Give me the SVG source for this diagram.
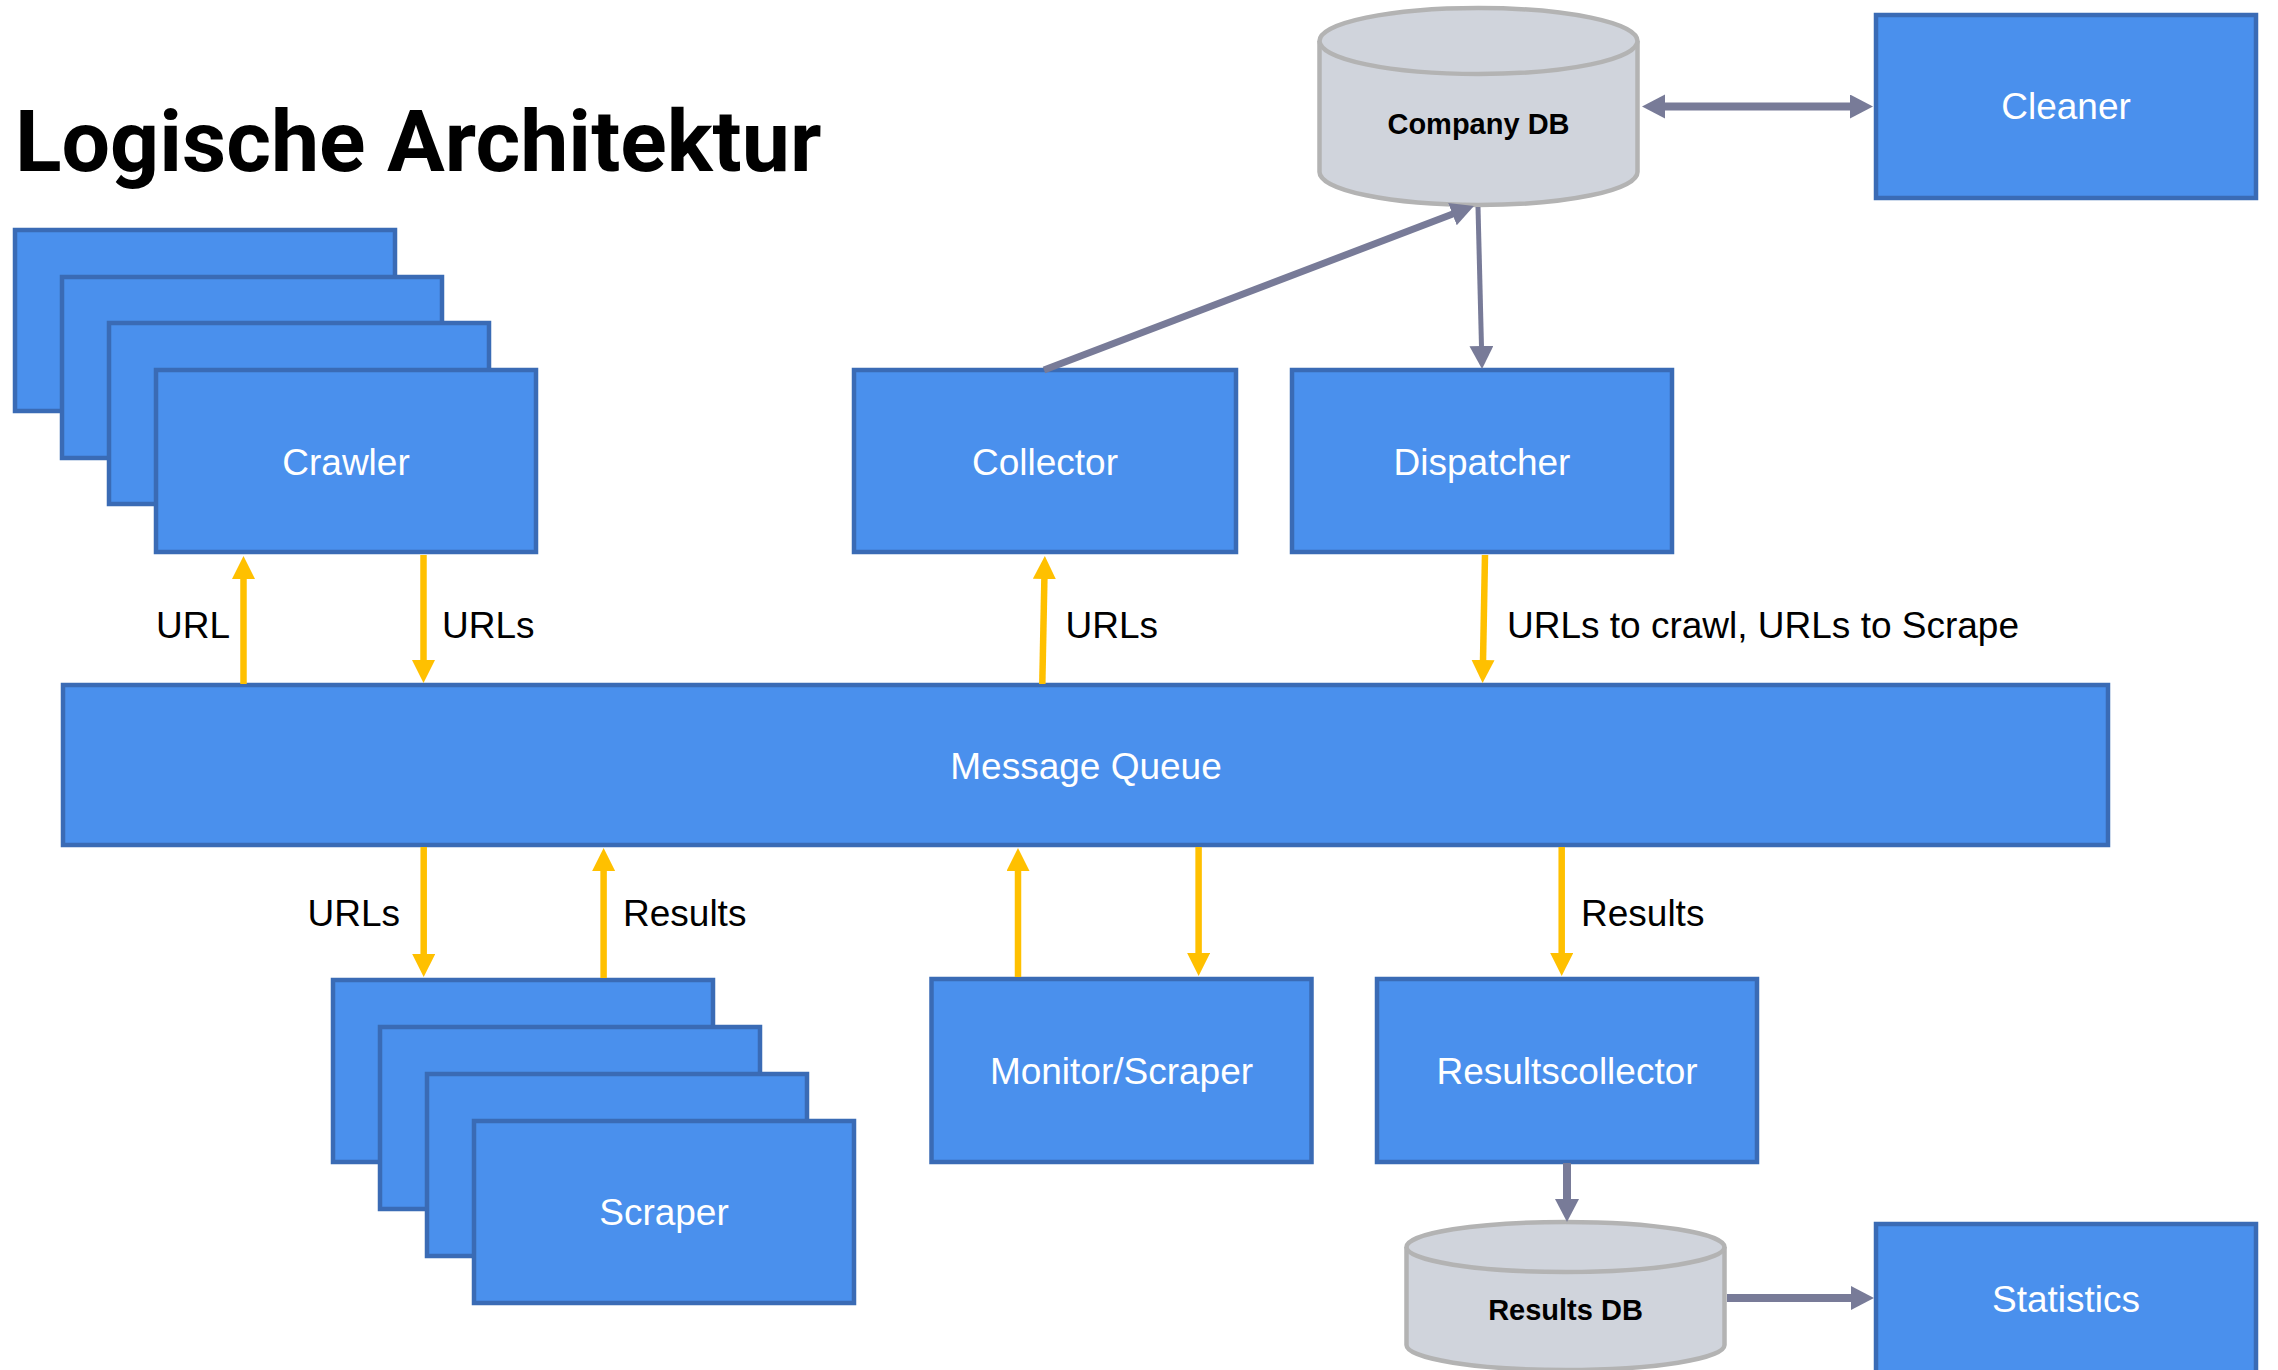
<svg xmlns="http://www.w3.org/2000/svg" width="2278" height="1370" viewBox="0 0 2278 1370">
  <style>
    .box { fill: #4a90ed; stroke: #3a6bb5; stroke-width: 4.5; }
    .db { fill: #d0d4dc; stroke: #b3b3b3; stroke-width: 4.5; }
    .lbl { font-family: "Liberation Sans", Arial, sans-serif; font-size: 37px; fill: #ffffff; text-anchor: middle; }
    .dblbl { font-family: "Liberation Sans", Arial, sans-serif; font-size: 29px; font-weight: bold; fill: #000000; text-anchor: middle; }
    .elbl { font-family: "Liberation Sans", Arial, sans-serif; font-size: 37px; fill: #000000; }
    .title { font-family: Roboto, "Liberation Sans", sans-serif; font-size: 86px; font-weight: bold; fill: #000000; }
    .flow { stroke: #ffc000; stroke-width: 6.5; fill: none; marker-end: url(#headY); }
    .link { stroke: #787b98; fill: none; marker-end: url(#headG); }
  </style>
  <defs>
    <marker id="headY" markerUnits="userSpaceOnUse" markerWidth="24" markerHeight="24" refX="1" refY="11.5" orient="auto">
      <path d="M0,0 L23,11.5 L0,23 Z" fill="#ffc000"/>
    </marker>
    <marker id="headG" markerUnits="userSpaceOnUse" markerWidth="24" markerHeight="25" refX="1" refY="12" orient="auto-start-reverse">
      <path d="M0,0 L23,12 L0,24 Z" fill="#787b98"/>
    </marker>
  </defs>

  <rect width="2278" height="1370" fill="#ffffff"/>

  <text class="title" x="15" y="171">Logische Architektur</text>

  <!-- Crawler instances, stacked -->
  <g id="crawler">
    <rect class="box" x="15" y="230" width="380" height="181"/>
    <rect class="box" x="62" y="277" width="380" height="181"/>
    <rect class="box" x="109" y="323" width="380" height="181"/>
    <rect class="box" x="156" y="370" width="380" height="182"/>
    <text class="lbl" x="346" y="475">Crawler</text>
  </g>

  <g id="collector">
    <rect class="box" x="854" y="370" width="382" height="182"/>
    <text class="lbl" x="1045" y="475">Collector</text>
  </g>

  <g id="dispatcher">
    <rect class="box" x="1292" y="370" width="380" height="182"/>
    <text class="lbl" x="1482" y="475">Dispatcher</text>
  </g>

  <g id="company-db">
    <path class="db" d="M1319.5,41 V172 A159,33 0 0 0 1637.5,172 V41"/>
    <ellipse class="db" cx="1478.5" cy="41" rx="159" ry="33"/>
    <text class="dblbl" x="1478.5" y="134">Company DB</text>
  </g>

  <g id="cleaner">
    <rect class="box" x="1876" y="15" width="380" height="183"/>
    <text class="lbl" x="2066" y="119">Cleaner</text>
  </g>

  <g id="message-queue">
    <rect class="box" x="63" y="685" width="2045" height="160"/>
    <text class="lbl" x="1086" y="779">Message Queue</text>
  </g>

  <!-- Scraper instances, stacked -->
  <g id="scraper">
    <rect class="box" x="333" y="980" width="380" height="182"/>
    <rect class="box" x="380" y="1027" width="380" height="182"/>
    <rect class="box" x="427" y="1074" width="380" height="182"/>
    <rect class="box" x="474" y="1121" width="380" height="182"/>
    <text class="lbl" x="664" y="1225">Scraper</text>
  </g>

  <g id="monitor-scraper">
    <rect class="box" x="931.5" y="979" width="380" height="183"/>
    <text class="lbl" x="1121.5" y="1084">Monitor/Scraper</text>
  </g>

  <g id="resultscollector">
    <rect class="box" x="1377" y="979" width="380" height="183"/>
    <text class="lbl" x="1567" y="1084">Resultscollector</text>
  </g>

  <g id="results-db">
    <path class="db" d="M1406.5,1247 V1345 A159,25 0 0 0 1724.5,1345 V1247"/>
    <ellipse class="db" cx="1565.5" cy="1247" rx="159" ry="25"/>
    <text class="dblbl" x="1565.5" y="1320">Results DB</text>
  </g>

  <g id="statistics">
    <rect class="box" x="1876" y="1224" width="380" height="182"/>
    <text class="lbl" x="2066" y="1312">Statistics</text>
  </g>

  <g id="connectors">
    <!-- database links -->
    <line class="link" stroke-width="7" x1="1044" y1="370" x2="1453.4" y2="213.8"/>
    <line class="link" stroke-width="5" x1="1478" y1="207" x2="1481.5" y2="347"/>
    <line class="link" stroke-width="8" x1="1664" y1="106.5" x2="1851" y2="106.5" marker-start="url(#headG)"/>
    <line class="link" stroke-width="8" x1="1567" y1="1163" x2="1567" y2="1200"/>
    <line class="link" stroke-width="8" x1="1727" y1="1298" x2="1852" y2="1298"/>

    <!-- message queue flows -->
    <line class="flow" x1="243.5" y1="684" x2="243.5" y2="578"/>
    <line class="flow" x1="423.5" y1="555" x2="423.5" y2="661"/>
    <line class="flow" x1="1042.3" y1="684" x2="1044.4" y2="578"/>
    <line class="flow" x1="1485" y1="555" x2="1483" y2="661"/>
    <line class="flow" x1="423.7" y1="847" x2="423.7" y2="955"/>
    <line class="flow" x1="603.6" y1="978" x2="603.6" y2="870"/>
    <line class="flow" x1="1018" y1="977" x2="1018" y2="870"/>
    <line class="flow" x1="1198.6" y1="847" x2="1198.6" y2="954"/>
    <line class="flow" x1="1561.7" y1="847" x2="1561.7" y2="954"/>

    <!-- flow labels -->
    <text class="elbl" x="230" y="638" text-anchor="end">URL</text>
    <text class="elbl" x="442" y="638">URLs</text>
    <text class="elbl" x="1065.5" y="638">URLs</text>
    <text class="elbl" x="1507" y="638">URLs to crawl, URLs to Scrape</text>
    <text class="elbl" x="400" y="926" text-anchor="end">URLs</text>
    <text class="elbl" x="623" y="926">Results</text>
    <text class="elbl" x="1581" y="926">Results</text>
  </g>
</svg>
